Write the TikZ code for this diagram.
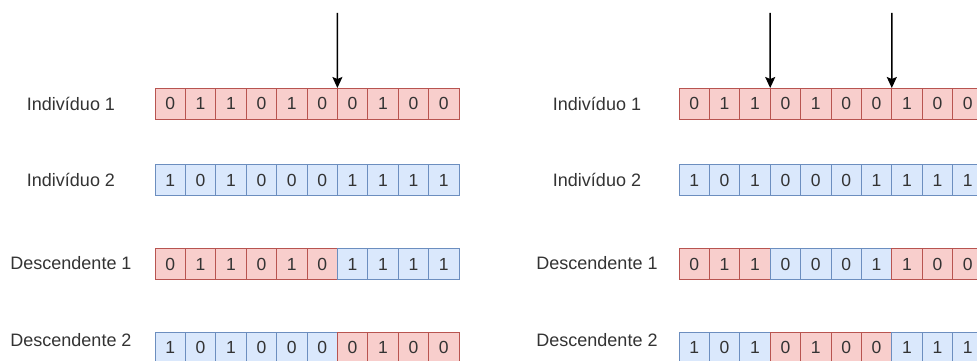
\documentclass[tikz,border=0pt]{standalone}
\usepackage{fontspec}
\setmainfont{Liberation Sans}
\usetikzlibrary{arrows.meta}
\definecolor{redfill}{HTML}{F8CECC}
\definecolor{redline}{HTML}{B85450}
\definecolor{bluefill}{HTML}{DAE8FC}
\definecolor{blueline}{HTML}{6C8EBF}
\definecolor{ink}{HTML}{333333}
\tikzset{
  cell/.style={draw, minimum width=30.4pt, minimum height=31pt, inner sep=0pt,
    outer sep=0pt, line width=0.9pt, font=\fontsize{17.5}{20}\selectfont,
    text=ink, anchor=north west},
  r/.style={cell, fill=redfill, draw=redline},
  b/.style={cell, fill=bluefill, draw=blueline},
  lbl/.style={font=\fontsize{18}{21}\selectfont, text=ink},
  cut/.style={line width=1.5pt, -{Stealth[length=11pt,width=10pt,inset=2pt]}}
}
\begin{document}
\begin{tikzpicture}[x=1pt,y=-1pt]
\useasboundingbox (0,0) rectangle (977,361);
\clip (0,0) rectangle (977,361);

% single-point crossover
\foreach \v/\c [count=\i] in {0/r,1/r,1/r,0/r,1/r,0/r,0/r,1/r,0/r,0/r}
  \node[\c] (La\i) at ({155+30.4*(\i-1)},88) {\v};
\foreach \v/\c [count=\i] in {1/b,0/b,1/b,0/b,0/b,0/b,1/b,1/b,1/b,1/b}
  \node[\c] (Lb\i) at ({155+30.4*(\i-1)},164.5) {\v};
\foreach \v/\c [count=\i] in {0/r,1/r,1/r,0/r,1/r,0/r,1/b,1/b,1/b,1/b}
  \node[\c] (Lc\i) at ({155+30.4*(\i-1)},248.5) {\v};
\foreach \v/\c [count=\i] in {1/b,0/b,1/b,0/b,0/b,0/b,0/r,1/r,0/r,0/r}
  \node[\c] (Ld\i) at ({155+30.4*(\i-1)},332) {\v};

\node[lbl] (tLa) at (71,104) {Indivíduo 1};
\node[lbl] (tLb) at (71,180) {Indivíduo 2};
\node[lbl] (tLc) at (71,263) {Descendente 1};
\node[lbl] (tLd) at (71,340) {Descendente 2};

\coordinate (p1) at (337.4,13);
\draw[cut] (p1) -- (La6.north east);

% two-point crossover
\foreach \v/\c [count=\i] in {0/r,1/r,1/r,0/r,1/r,0/r,0/r,1/r,0/r,0/r}
  \node[\c] (Ra\i) at ({679+30.4*(\i-1)},88) {\v};
\foreach \v/\c [count=\i] in {1/b,0/b,1/b,0/b,0/b,0/b,1/b,1/b,1/b,1/b}
  \node[\c] (Rb\i) at ({679+30.4*(\i-1)},164.5) {\v};
\foreach \v/\c [count=\i] in {0/r,1/r,1/r,0/b,0/b,0/b,1/b,1/r,0/r,0/r}
  \node[\c] (Rc\i) at ({679+30.4*(\i-1)},248.5) {\v};
\foreach \v/\c [count=\i] in {1/b,0/b,1/b,0/r,1/r,0/r,0/r,1/b,1/b,1/b}
  \node[\c] (Rd\i) at ({679+30.4*(\i-1)},332) {\v};

\node[lbl] (tRa) at (597,104) {Indivíduo 1};
\node[lbl] (tRb) at (597,180) {Indivíduo 2};
\node[lbl] (tRc) at (597,263) {Descendente 1};
\node[lbl] (tRd) at (597,340) {Descendente 2};

\coordinate (p2) at (770.2,13);
\coordinate (p3) at (891.8,13);
\draw[cut] (p2) -- (Ra3.north east);
\draw[cut] (p3) -- (Ra7.north east);
\end{tikzpicture}
\end{document}
